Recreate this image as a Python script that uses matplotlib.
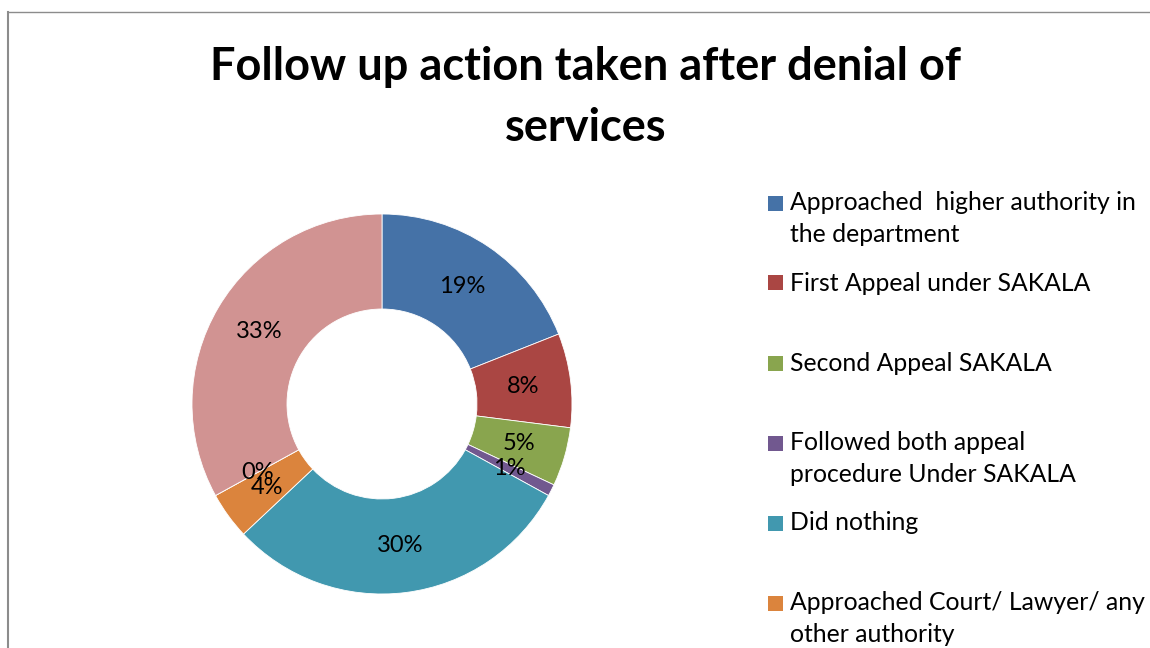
import matplotlib
matplotlib.use("Agg")
import matplotlib.pyplot as plt
from matplotlib.lines import Line2D
from matplotlib.patches import Rectangle

plt.rcParams['font.family'] = ['Lato', 'DejaVu Sans']

# Share of respondents by follow-up action (percent)
values = [19, 8, 5, 1, 30, 4, 0, 33]
colors = ['#4572A7', '#AA4643', '#89A54E', '#71588F',
          '#4198AF', '#DB843D', '#93A9CF', '#D19392']
legend_labels = [
    'Approached  higher authority in\nthe department',
    'First Appeal under SAKALA',
    'Second Appeal SAKALA',
    'Followed both appeal\nprocedure Under SAKALA',
    'Did nothing',
    'Approached Court/ Lawyer/ any\nother authority',
]
title = 'Follow up action taken after denial of\nservices'

W, H = 1150, 648
fig = plt.figure(figsize=(W / 100, H / 100), dpi=100)
fig.patch.set_facecolor('white')

# chart frame (left and top edges)
fig.add_artist(Line2D([8 / W, 8 / W], [0, 1 - 12 / H], color='#8C8C8C', lw=1.5))
fig.add_artist(Line2D([8 / W, 1], [1 - 12 / H, 1 - 12 / H], color='#8C8C8C', lw=1))

fig.text(586 / W, 1 - 46 / H, title, ha='center', va='top',
         fontsize=32.5, fontweight='bold', linespacing=1.55)

# doughnut
cx, cy, r = 382, 404, 190
ax = fig.add_axes([(cx - r) / W, (H - cy - r) / H, 2 * r / W, 2 * r / H])
wedges, texts, autotexts = ax.pie(
    values, colors=colors, startangle=90, counterclock=False, radius=1,
    autopct='%.0f%%', pctdistance=0.75,
    wedgeprops=dict(width=0.5, edgecolor='white', linewidth=0.6),
    textprops=dict(fontsize=17, color='black'))
ax.set_xlim(-1, 1)
ax.set_ylim(-1, 1)
ax.set_aspect('equal')
ax.axis('off')

# legend, one slot every 80 px
leg_x, leg_y0, slot, line_h = 768, 203, 80, 32
for i, (label, col) in enumerate(zip(legend_labels, colors)):
    y = leg_y0 + i * slot
    fig.add_artist(Rectangle((leg_x / W, 1 - (y + 7.5) / H), 15 / W, 15 / H,
                             facecolor=col, edgecolor='none',
                             transform=fig.transFigure))
    for j, line in enumerate(label.split('\n')):
        fig.text((leg_x + 22) / W, 1 - (y + j * line_h) / H, line,
                 ha='left', va='center', fontsize=17.8)

fig.savefig('out.png', dpi=100)
